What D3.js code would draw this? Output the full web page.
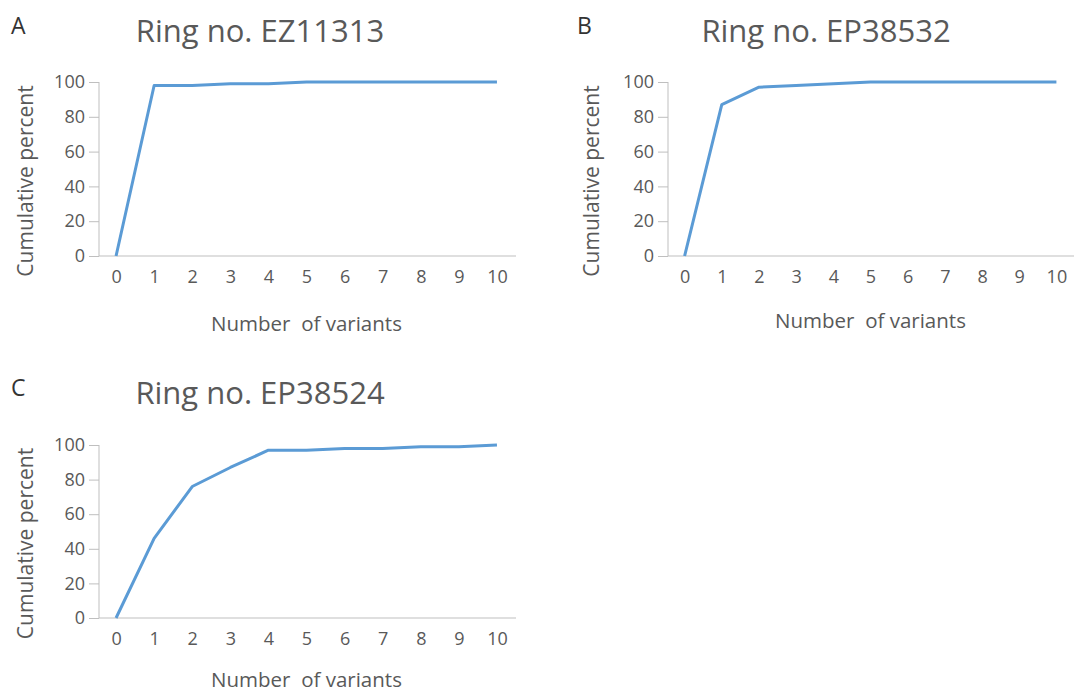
<!DOCTYPE html>
<html>
<head>
<meta charset="utf-8">
<script src="https://cdn.jsdelivr.net/npm/d3@7"></script>
<style>
  body { margin: 0; background: #fff; }
  text { font-family: "Open Sans", sans-serif; }
</style>
</head>
<body>
<div id="plot_div"></div>
<script>
const width  = 1074;
const height = 696;

// number of variants on the x axis
const variants = ["0","1","2","3","4","5","6","7","8","9","10"];
const yTicks = [0, 20, 40, 60, 80, 100];

// cumulative percent per ring
const ringA = [0, 98, 98, 99, 99, 100, 100, 100, 100, 100, 100];
const ringB = [0, 87, 97, 98, 99, 100, 100, 100, 100, 100, 100];
const ringC = [0, 46, 76, 87, 97, 97, 98, 98, 99, 99, 100];

const titles  = ["Ring no. EZ11313", "Ring no. EP38532", "Ring no. EP38524"];
const letters = ["A", "B", "C"];

// panel frames: plot area left/right/top/bottom, x-title gap
const panels = [
  {letter: letters[0], title: titles[0], values: ringA, left: 97,  right: 516,  top: 82,  bottom: 256, ox: 0,   oy: 0,   xlab: 75},
  {letter: letters[1], title: titles[1], values: ringB, left: 666, right: 1075, top: 82,  bottom: 256, ox: 566, oy: 0,   xlab: 72},
  {letter: letters[2], title: titles[2], values: ringC, left: 97,  right: 516,  top: 445, bottom: 618, ox: 0,   oy: 362, xlab: 69}
];

const axisColor = "#bfbfbf";
const textColor = "#595959";
const lineColor = "#5b9bd5";

const svg = d3.create("svg")
    .attr("width", width)
    .attr("height", height)
    .attr("viewBox", [0, 0, width, height]);

function draw_panel(p){
  const g = svg.append("g");

  const x = d3.scalePoint()
      .domain(variants)
      .range([p.left, p.right])
      .padding(0.5);

  const y = d3.scaleLinear()
      .domain([0, 100])
      .range([p.bottom, p.top]);

  // y axis
  const ya = g.append("g")
      .attr("transform", `translate(${p.left + 2},0)`)
      .call(d3.axisLeft(y).tickValues(yTicks).tickSize(10).tickPadding(4));
  ya.select(".domain").attr("stroke", axisColor).attr("d", `M0,${p.top}V${p.bottom}`);
  ya.selectAll(".tick line").attr("stroke", axisColor);
  ya.selectAll(".tick text")
      .attr("fill", textColor)
      .style("font-size", "18px")
      .style("font-family", "Open Sans");

  // x axis
  const xa = g.append("g")
      .attr("transform", `translate(0,${p.bottom})`)
      .call(d3.axisBottom(x).tickSize(0).tickPadding(14));
  xa.select(".domain").attr("stroke", axisColor).attr("d", `M${p.left + 2},0H${p.right}`);
  xa.selectAll(".tick text")
      .attr("fill", textColor)
      .style("font-size", "18px")
      .style("font-family", "Open Sans");

  // line
  const line = d3.line()
      .x((d, i) => x(variants[i]))
      .y(d => y(d));

  g.append("path")
      .datum(p.values)
      .attr("fill", "none")
      .attr("stroke", lineColor)
      .attr("stroke-width", 3)
      .attr("stroke-linejoin", "round")
      .attr("d", line);

  // labels
  g.append("text")
      .attr("x", p.ox + 11)
      .attr("y", p.oy + 34)
      .attr("fill", "#333")
      .style("font-size", "23px")
      .text(p.letter);

  g.append("text")
      .attr("x", p.ox + 260)
      .attr("y", p.oy + 42)
      .attr("text-anchor", "middle")
      .attr("fill", textColor)
      .style("font-size", "31px")
      .text(p.title);

  g.append("text")
      .attr("transform", `translate(${p.ox + 33},${(p.top + p.bottom) / 2 + 12}) rotate(-90)`)
      .attr("text-anchor", "middle")
      .attr("fill", textColor)
      .style("font-size", "21px")
      .text("Cumulative percent");

  g.append("text")
      .attr("x", (p.left + p.right) / 2)
      .attr("y", p.bottom + p.xlab)
      .attr("text-anchor", "middle")
      .attr("fill", textColor)
      .style("font-size", "20.5px")
      .style("white-space", "pre")
      .text("Number  of variants");
}

panels.forEach(draw_panel);

document.getElementById("plot_div").append(svg.node());
</script>
</body>
</html>
